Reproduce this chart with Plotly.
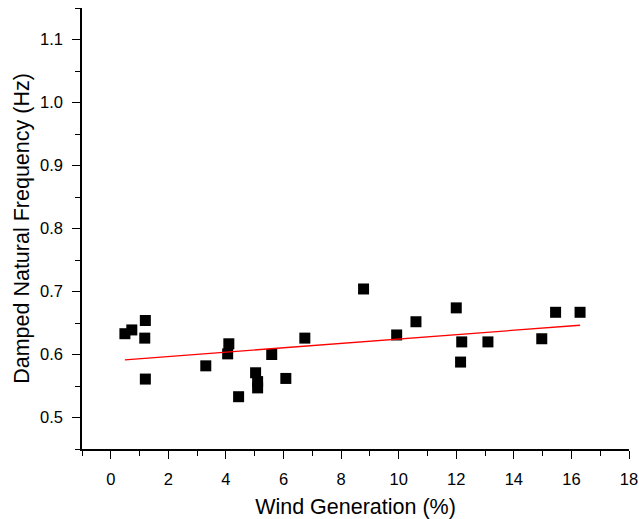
import numpy as np
import plotly.graph_objects as go

wind = [0.49, 0.73, 1.2, 1.18, 1.2, 3.3, 4.1, 4.06, 4.44, 5.03, 5.1, 5.1, 5.59, 6.08, 6.74,
        8.78, 9.93, 10.6, 12.0, 12.15, 12.19, 13.1, 14.97, 15.45, 16.3]
freq = [0.633, 0.639, 0.654, 0.626, 0.561, 0.582, 0.617, 0.601, 0.533, 0.571, 0.557, 0.547,
        0.600, 0.562, 0.626, 0.704, 0.631, 0.652, 0.674, 0.588, 0.620, 0.620, 0.625, 0.667, 0.667]

# linear fit
fit_x = [min(wind), max(wind)]
fit_intercept = 0.5899
fit_slope = 0.00347
fit_y = [fit_intercept + fit_slope * v for v in fit_x]

fig = go.Figure()
fig.add_trace(go.Scatter(x=wind, y=freq, mode="markers",
                         marker=dict(symbol="square", size=11, color="black",
                                     line=dict(width=0)),
                         showlegend=False))
fig.add_trace(go.Scatter(x=fit_x, y=fit_y, mode="lines",
                         line=dict(color="red", width=1.3), showlegend=False))

font = "Liberation Sans, Arial, sans-serif"
fig.update_layout(
    width=639, height=519,
    margin=dict(l=82, r=10, t=8, b=70),
    plot_bgcolor="white", paper_bgcolor="white",
    font=dict(family=font, color="black", size=16.5),
    xaxis=dict(range=[-1, 18], tickmode="linear", tick0=0, dtick=2,
               ticks="outside", ticklen=8, tickwidth=1.3, tickcolor="black",
               showline=True, linecolor="black", linewidth=1.5, showgrid=False,
               zeroline=False, ticklabelstandoff=6, automargin=False,
               minor=dict(ticks="outside", ticklen=5, tickwidth=1.3, tickcolor="black",
                          dtick=1, tick0=0, showgrid=False),
               title=dict(text="Wind Generation (%)", font=dict(size=21.5), standoff=13),
               tickfont=dict(size=16.5)),
    yaxis=dict(range=[0.45, 1.15], tickmode="linear", tick0=0.5, dtick=0.1,
               tickformat=".1f",
               ticks="outside", ticklen=8, tickwidth=1.3, tickcolor="black",
               showline=True, linecolor="black", linewidth=1.5, showgrid=False,
               zeroline=False, ticklabelstandoff=6, automargin=False,
               minor=dict(ticks="outside", ticklen=5, tickwidth=1.3, tickcolor="black",
                          dtick=0.05, tick0=0.45, showgrid=False),
               title=dict(text="Damped Natural Frequency (Hz)", font=dict(size=21.5), standoff=4),
               tickfont=dict(size=16.5)),
)
fig.write_html("out.html")
